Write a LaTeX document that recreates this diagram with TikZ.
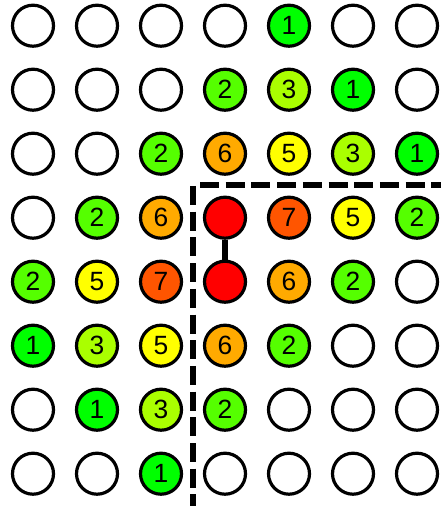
\documentclass[tikz,border=0pt]{standalone}
\usepackage{fontspec}
\setmainfont{Liberation Sans}
\definecolor{scoreone}{HTML}{00FF00}
\definecolor{scoretwo}{HTML}{55FF00}
\definecolor{scorethree}{HTML}{AAFF00}
\definecolor{scorefive}{HTML}{FFFF00}
\definecolor{scoresix}{HTML}{FFAA00}
\definecolor{scoreseven}{HTML}{FF5500}
\definecolor{scoremax}{HTML}{FF0000}

\begin{document}
\begin{tikzpicture}[x=1bp, y=-1bp,
  cell/.style={circle, draw=black, line width=3.2bp, minimum size=41bp, inner sep=0pt,
               fill=white, font=\fontsize{26.5}{26.5}\selectfont},
  one/.style={cell, fill=scoreone},
  two/.style={cell, fill=scoretwo},
  three/.style={cell, fill=scorethree},
  five/.style={cell, fill=scorefive},
  six/.style={cell, fill=scoresix},
  seven/.style={cell, fill=scoreseven},
  peak/.style={cell, fill=scoremax},
  border/.style={line width=5.5bp, dash pattern=on 19bp off 6.7bp}
]
  \useasboundingbox (0,0) rectangle (441,506);

  % Region border
  \coordinate (bl) at (193,506);
  \coordinate (cv) at (193,186);
  \coordinate (ch) at (200,185);
  \coordinate (br) at (441,185);
  \draw[border] (cv) -- (bl);
  \draw[border] (ch) -- (br);

  % Row 1
  \node[cell]  (a1) at (33,25.7) {};
  \node[cell]  (b1) at (97,25.7) {};
  \node[cell]  (c1) at (161,25.7) {};
  \node[cell]  (d1) at (225,25.7) {};
  \node[one]   (e1) at (289,25.7) {1};
  \node[cell]  (f1) at (353,25.7) {};
  \node[cell]  (g1) at (417,25.7) {};

  % Row 2
  \node[cell]  (a2) at (33,89.7) {};
  \node[cell]  (b2) at (97,89.7) {};
  \node[cell]  (c2) at (161,89.7) {};
  \node[two]   (d2) at (225,89.7) {2};
  \node[three] (e2) at (289,89.7) {3};
  \node[one]   (f2) at (353,89.7) {1};
  \node[cell]  (g2) at (417,89.7) {};

  % Row 3
  \node[cell]  (a3) at (33,153.7) {};
  \node[cell]  (b3) at (97,153.7) {};
  \node[two]   (c3) at (161,153.7) {2};
  \node[six]   (d3) at (225,153.7) {6};
  \node[five]  (e3) at (289,153.7) {5};
  \node[three] (f3) at (353,153.7) {3};
  \node[one]   (g3) at (417,153.7) {1};

  % Row 4
  \node[cell]  (a4) at (33,217.7) {};
  \node[two]   (b4) at (97,217.7) {2};
  \node[six]   (c4) at (161,217.7) {6};
  \node[peak]  (d4) at (225,217.7) {};
  \node[seven] (e4) at (289,217.7) {7};
  \node[five]  (f4) at (353,217.7) {5};
  \node[two]   (g4) at (417,217.7) {2};

  % Row 5
  \node[two]   (a5) at (33,281.7) {2};
  \node[five]  (b5) at (97,281.7) {5};
  \node[seven] (c5) at (161,281.7) {7};
  \node[peak]  (d5) at (225,281.7) {};
  \node[six]   (e5) at (289,281.7) {6};
  \node[two]   (f5) at (353,281.7) {2};
  \node[cell]  (g5) at (417,281.7) {};

  % Row 6
  \node[one]   (a6) at (33,345.7) {1};
  \node[three] (b6) at (97,345.7) {3};
  \node[five]  (c6) at (161,345.7) {5};
  \node[six]   (d6) at (225,345.7) {6};
  \node[two]   (e6) at (289,345.7) {2};
  \node[cell]  (f6) at (353,345.7) {};
  \node[cell]  (g6) at (417,345.7) {};

  % Row 7
  \node[cell]  (a7) at (33,409.7) {};
  \node[one]   (b7) at (97,409.7) {1};
  \node[three] (c7) at (161,409.7) {3};
  \node[two]   (d7) at (225,409.7) {2};
  \node[cell]  (e7) at (289,409.7) {};
  \node[cell]  (f7) at (353,409.7) {};
  \node[cell]  (g7) at (417,409.7) {};

  % Row 8
  \node[cell]  (a8) at (33,473.7) {};
  \node[cell]  (b8) at (97,473.7) {};
  \node[one]   (c8) at (161,473.7) {1};
  \node[cell]  (d8) at (225,473.7) {};
  \node[cell]  (e8) at (289,473.7) {};
  \node[cell]  (f8) at (353,473.7) {};
  \node[cell]  (g8) at (417,473.7) {};

  % Link between the two peaks
  \draw[line width=5.5bp] (d4) -- (d5);
\end{tikzpicture}
\end{document}
